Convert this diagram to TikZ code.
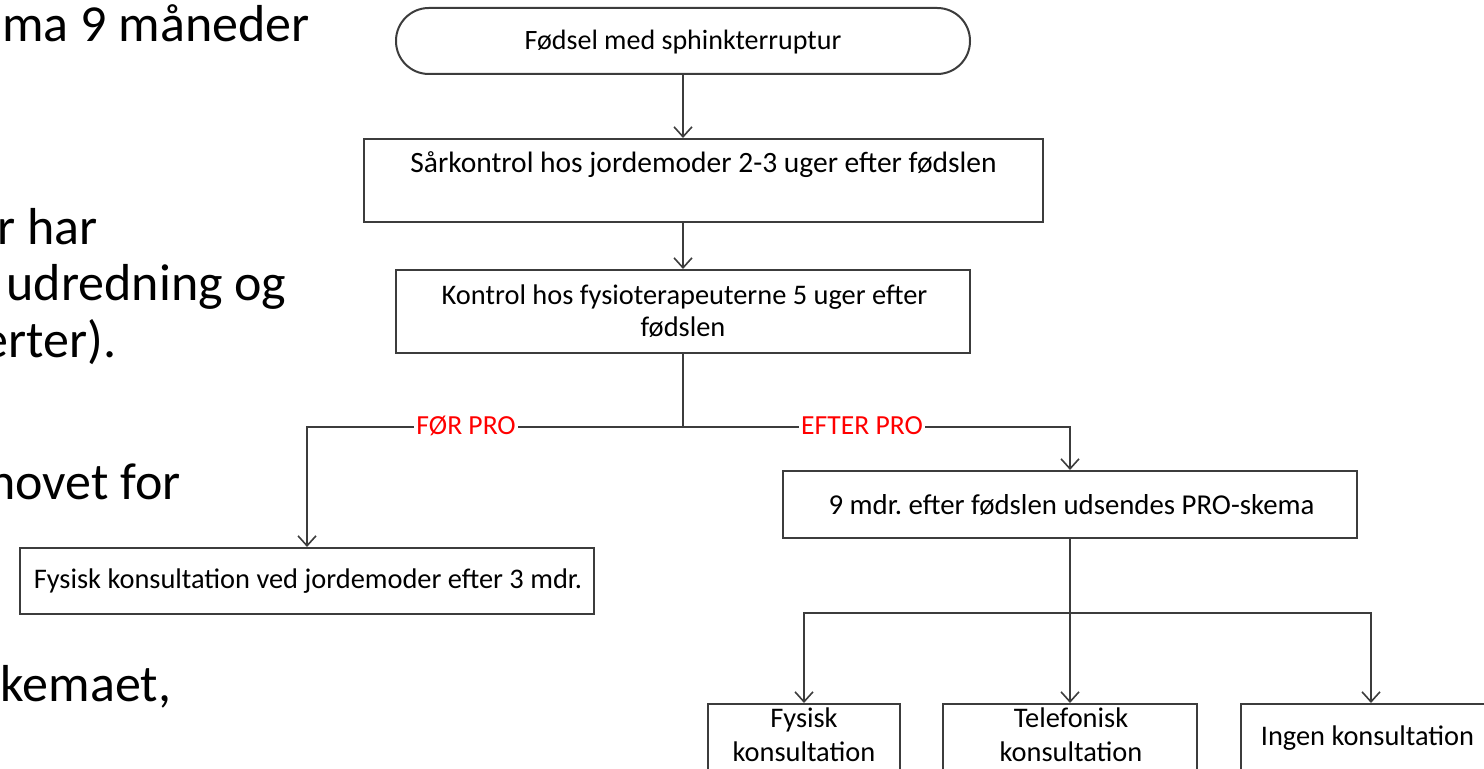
\documentclass[tikz,border=0pt]{standalone}
\usepackage{fontspec}
\setmainfont{Carlito}
\usetikzlibrary{arrows.meta}
\definecolor{ln}{HTML}{3C3C3C}
\frenchspacing
\begin{document}
\begin{tikzpicture}[x=0.5pt,y=-0.5pt,
  box/.style={draw=ln,line width=1pt,inner sep=0pt},
  txt/.style={font=\fontsize{14.2pt}{16pt}\selectfont,inner sep=0pt,anchor=base},
  big/.style={font=\fontsize{26pt}{30pt}\selectfont,inner sep=0pt,anchor=base east},
  bigl/.style={big,anchor=base west},
  conn/.style={draw=ln,line width=0.8pt},
  arr/.style={conn,-{Straight Barb[length=5pt,width=9pt]}},
  lab/.style={font=\fontsize{13.8pt}{15pt}\selectfont,text=red,fill=white,inner xsep=1pt,inner ysep=1pt,anchor=base}]
\clip (0,0) rectangle (1484,769);
% left slide text fragments
\node[big] (l1) at (310,42) {ma 9 måneder};
\node[big] (l2) at (98,245) {r har};
\node[big] (l3) at (287,301) {udredning og};
\node[big] (l4) at (117,358) {erter).};
\node[big] (l5) at (181,500) {hovet for};
\node[bigl] (l6) at (0.5,702) {kemaet,};
% boxes
\node[box,rounded corners=16.4pt,minimum width=287pt,minimum height=33pt] (start) at (683,41) {};
\node[box,minimum width=339.5pt,minimum height=41.5pt] (sar) at (703.5,180.5) {};
\node[box,minimum width=287pt,minimum height=41.5pt] (kon) at (683,311.5) {};
\node[box,minimum width=287pt,minimum height=33pt] (fys3) at (307,581) {};
\node[box,minimum width=287pt,minimum height=33.5pt] (pro) at (1070,504.5) {};
\node[box,minimum width=96pt,minimum height=48pt] (b1) at (804,752) {};
\node[box,minimum width=127pt,minimum height=48pt] (b2) at (1070,752) {};
\node[box,minimum width=130pt,minimum height=48pt] (b3) at (1371,752) {};
% texts
\node[txt,font=\fontsize{14pt}{16pt}\selectfont] (tstart) at (683,50) {Fødsel med sphinkterruptur};
\node[txt,font=\fontsize{14.75pt}{16pt}\selectfont] (tsar) at (703.5,173) {Sårkontrol hos jordemoder 2-3 uger efter fødslen};
\node[txt] (tkon1) at (684.5,305) {Kontrol hos fysioterapeuterne 5 uger efter};
\node[txt] (tkon2) at (683,337) {fødslen};
\node[txt] (tfys3) at (308,589) {Fysisk konsultation ved jordemoder efter 3 mdr.};
\node[txt,font=\fontsize{14.4pt}{16pt}\selectfont] (tpro) at (1071.5,515) {9 mdr. efter fødslen udsendes PRO-skema};
\node[txt] (tb1a) at (804,728) {Fysisk};
\node[txt] (tb1b) at (804,762) {konsultation};
\node[txt] (tb2a) at (1071,728) {Telefonisk};
\node[txt] (tb2b) at (1071,762) {konsultation};
\node[txt] (tb3) at (1367.5,746) {Ingen konsultation};
% connectors
\coordinate (j1) at (683,427);
\coordinate (j2) at (1070,613);
\draw[arr] (start.south) -- (start.south |- sar.north);
\draw[arr] (kon.north |- sar.south) -- (kon.north);
\draw[conn] (kon.south) -- (j1);
\draw[arr] (j1) -| (fys3.north);
\draw[arr] (j1) -| (pro.north);
\node[lab] (lfor) at (466,435) {FØR PRO};
\node[lab] (lefter) at (862,435) {EFTER PRO};
\draw[conn] (pro.south) -- (j2);
\draw[arr] (j2) -| (b1.north);
\draw[arr] (j2) -- (b2.north);
\draw[arr] (j2) -| (b3.north);
\end{tikzpicture}
\end{document}
